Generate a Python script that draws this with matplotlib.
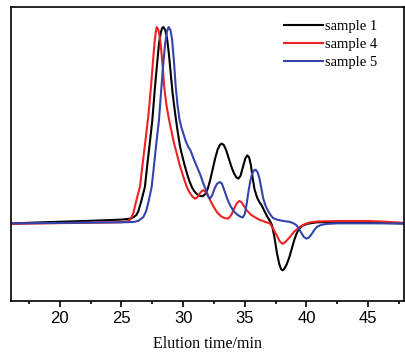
import matplotlib
matplotlib.use('Agg')
import matplotlib.pyplot as plt
from matplotlib.ticker import MultipleLocator

# Data (elution time in min, normalised signal)
t1 = [16.0, 18.0, 20.0, 22.5, 25.0, 25.5, 25.8, 26.0, 26.2, 26.37, 26.6, 26.9,
      27.1, 27.3, 27.5, 27.7, 27.9, 28.05, 28.2, 28.3, 28.4, 28.55, 28.7, 28.85,
      29.0, 29.15, 29.35, 29.55, 29.75, 29.88, 30.1, 30.3, 30.5, 30.7, 30.9,
      31.1, 31.35, 31.58, 31.8, 32.0, 32.2, 32.4, 32.6, 32.8, 33.0, 33.13, 33.3,
      33.5, 33.7, 33.9, 34.1, 34.3, 34.48, 34.65, 34.85, 35.05, 35.2, 35.35,
      35.5, 35.65, 35.8, 36.0, 36.2, 36.37, 36.6, 36.8, 37.0, 37.2, 37.4, 37.6,
      37.8, 37.95, 38.07, 38.2, 38.4, 38.6, 38.8, 39.0, 39.2, 39.4, 39.7, 40.1,
      40.8, 42.0, 45.0, 48.0]
s1 = [-0.003, 0.002, 0.006, 0.011, 0.017, 0.02, 0.024, 0.03, 0.04, 0.06, 0.11, 0.184,
      0.3, 0.41, 0.524, 0.68, 0.82, 0.92, 0.975, 0.995, 1.0, 0.985, 0.94, 0.86,
      0.76, 0.66, 0.56, 0.47, 0.39, 0.355, 0.3, 0.255, 0.215, 0.184, 0.162,
      0.148, 0.138, 0.136, 0.148, 0.175, 0.22, 0.275, 0.33, 0.375, 0.4, 0.405, 0.398,
      0.37, 0.33, 0.29, 0.257, 0.234, 0.226, 0.24, 0.285, 0.33, 0.345, 0.335,
      0.295, 0.225, 0.17, 0.13, 0.105, 0.09, 0.06, 0.035, 0.015, -0.01, -0.07, -0.15,
      -0.21, -0.236, -0.242, -0.235, -0.212, -0.178, -0.135, -0.09, -0.055, -0.03,
      -0.013, -0.004, 0.003, 0.005, 0.003, -0.003]

t4 = [16.0, 18.0, 20.0, 22.5, 25.0, 25.5, 25.75, 25.96, 26.15, 26.35, 26.5, 26.75,
      27.0, 27.2, 27.4, 27.55, 27.68, 27.78, 27.86, 28.0, 28.15, 28.3, 28.47, 28.65,
      28.85, 29.05, 29.25, 29.48, 29.7, 29.9, 30.1, 30.3, 30.5, 30.75, 30.96,
      31.15, 31.35, 31.5, 31.64, 31.8, 32.0, 32.2, 32.45, 32.75, 33.05, 33.35,
      33.66, 33.9, 34.15, 34.35, 34.56, 34.75, 34.95, 35.2, 35.5, 35.8, 36.2,
      36.6, 37.05, 37.3, 37.6, 37.85, 38.07, 38.3, 38.67, 39.0, 39.48, 39.9, 40.3,
      41.0, 43.0, 45.0, 46.5, 48.0]
s4 = [-0.005, -0.003, -0.001, 0.001, 0.004, 0.008, 0.02, 0.05, 0.1, 0.15, 0.184, 0.32,
      0.45, 0.56, 0.7, 0.82, 0.92, 0.975, 1.0, 0.985, 0.93, 0.83, 0.694, 0.6,
      0.53, 0.47, 0.41, 0.355, 0.3, 0.26, 0.22, 0.184, 0.158, 0.135, 0.124,
      0.13, 0.15, 0.162, 0.167, 0.16, 0.14, 0.115, 0.085, 0.055, 0.035, 0.025,
      0.022, 0.04, 0.075, 0.1, 0.112, 0.105, 0.085, 0.062, 0.042, 0.03, 0.016,
      0.007, -0.003, -0.03, -0.063, -0.095, -0.107, -0.097, -0.071, -0.045, -0.02,
      -0.005, 0.003, 0.008, 0.01, 0.01, 0.006, 0.0]

t5 = [16.0, 18.0, 20.0, 23.0, 25.0, 26.0, 26.4, 26.77, 27.0, 27.2, 27.45, 27.65,
      27.85, 28.04, 28.2, 28.4, 28.55, 28.7, 28.82, 28.97, 29.1, 29.25, 29.4,
      29.55, 29.7, 29.85, 30.0, 30.2, 30.4, 30.6, 30.9, 31.2, 31.4, 31.65, 31.9,
      32.05, 32.18, 32.35, 32.55, 32.75, 32.99, 33.15, 33.35, 33.6, 33.85, 34.1,
      34.4, 34.65, 34.83, 35.0, 35.15, 35.3, 35.45, 35.6, 35.75, 35.88, 36.05,
      36.2, 36.35, 36.5, 36.7, 36.9, 37.1, 37.3, 37.6, 38.12, 38.6, 38.9, 39.2,
      39.4, 39.6, 39.8, 40.0, 40.2, 40.45, 40.65, 40.85, 41.2, 41.65, 42.5, 45.0,
      48.0]
s5 = [-0.003, -0.001, 0.0, 0.002, 0.003, 0.005, 0.012, 0.03, 0.06, 0.11, 0.184, 0.3,
      0.42, 0.524, 0.66, 0.82, 0.92, 0.98, 1.0, 0.985, 0.94, 0.83, 0.694,
      0.6, 0.53, 0.49, 0.46, 0.42, 0.39, 0.37, 0.32, 0.275, 0.245, 0.2, 0.16,
      0.135, 0.124, 0.14, 0.175, 0.2, 0.209, 0.2, 0.165, 0.12, 0.085, 0.06,
      0.042, 0.032, 0.028, 0.045, 0.095, 0.16, 0.215, 0.252, 0.268, 0.272, 0.258,
      0.225, 0.175, 0.125, 0.085, 0.06, 0.04, 0.025, 0.017, 0.01, 0.006, 0.0, -0.012,
      -0.03, -0.052, -0.072, -0.08, -0.075, -0.055, -0.035, -0.02, -0.01, -0.005,
      -0.002, -0.002, -0.003]

labels = ['sample 1', 'sample 4', 'sample 5']
colors = ['#000000', '#ee2222', '#3344aa']

fig = plt.figure(figsize=(4.05, 3.54), dpi=100)
ax = fig.add_axes([0.026, 0.150, 0.971, 0.830])

for t, s, lab, c in zip([t1, t4, t5], [s1, s4, s5], labels, colors):
    ax.plot(t, s, color=c, lw=1.5, label=lab)

ax.set_xlim(16, 47.9)
ax.set_ylim(-0.398, 1.102)
ax.xaxis.set_major_locator(MultipleLocator(5))
ax.xaxis.set_minor_locator(MultipleLocator(2.5))
ax.set_yticks([])
ax.tick_params(axis='x', which='major', direction='out', length=4, width=1.2,
               labelsize=12)
ax.tick_params(axis='x', which='minor', direction='out', length=2.5, width=1.2)
for lbl in ax.get_xticklabels():
    lbl.set_fontfamily('Liberation Sans')
for sp in ax.spines.values():
    sp.set_linewidth(1.2)

ax.set_xlabel('Elution time/min', fontsize=11.5, family='Liberation Serif',
              labelpad=7)

ax.legend(loc='upper left', bbox_to_anchor=(0.68, 0.975), frameon=False,
          prop={'family': 'Liberation Serif', 'size': 10.5},
          handlelength=2.7, handletextpad=0.15, labelspacing=0.3,
          borderaxespad=0)

fig.savefig('out.png', dpi=100)
